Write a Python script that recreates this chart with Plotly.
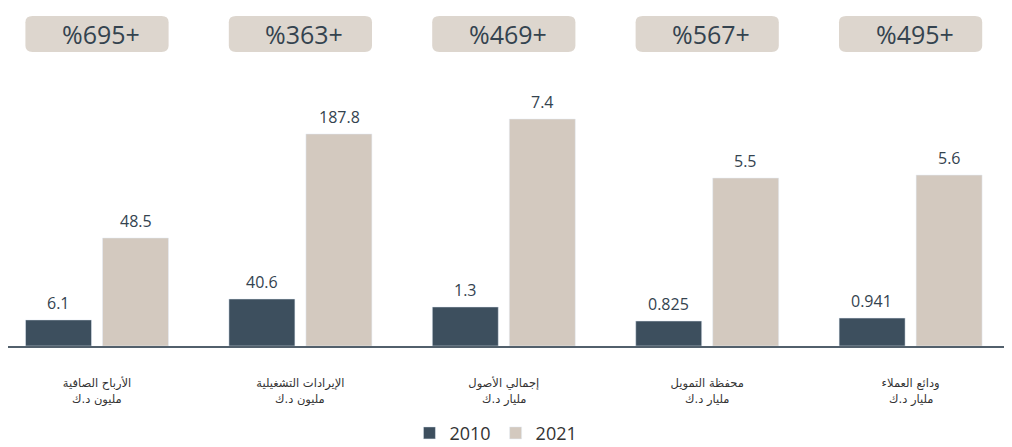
import plotly.graph_objects as go

categories = [
    "الأرباح الصافية",
    "الإيرادات التشغيلية",
    "إجمالي الأصول",
    "محفظة التمويل",
    "ودائع العملاء",
]
units = ["مليون د.ك", "مليون د.ك", "مليار د.ك", "مليار د.ك", "مليار د.ك"]
growth_labels = ["%695+", "%363+", "%469+", "%567+", "%495+"]
values_2010 = ["6.1", "40.6", "1.3", "0.825", "0.941"]
values_2021 = ["48.5", "187.8", "7.4", "5.5", "5.6"]
# visual bar heights as drawn in the picture (relative, tallest = 100)
height_2010 = [11.5, 20.7, 17.2, 11.0, 12.3]
height_2021 = [47.6, 93.4, 100.0, 74.0, 75.3]

DARK = "#3d4f5e"
BEIGE = "#d3c9bf"
BOX = "#ddd6ce"
TEXT = "#34434f"
LABEL = "#333333"

xs = list(range(len(categories)))

fig = go.Figure()
fig.add_trace(go.Bar(x=xs, y=height_2010, name="2010", marker_color=DARK,
                     hoverinfo="skip"))
fig.add_trace(go.Bar(x=xs, y=height_2021, name="2021", marker_color=BEIGE,
                     hoverinfo="skip"))

annotations = []
for i in xs:
    annotations.append(dict(x=i - 0.19, y=height_2010[i], text=values_2010[i],
                            showarrow=False, yanchor="bottom", yshift=4,
                            font=dict(family="Open Sans", size=16, color=TEXT)))
    annotations.append(dict(x=i + 0.19, y=height_2021[i], text=values_2021[i],
                            showarrow=False, yanchor="bottom", yshift=4,
                            font=dict(family="Open Sans", size=16, color=TEXT)))
    annotations.append(dict(x=i + 0.02, y=0.923, yref="paper", text=growth_labels[i],
                            showarrow=False, yanchor="middle",
                            font=dict(family="Open Sans", size=25, color=TEXT)))
    annotations.append(dict(x=i, y=0, text=units[i], showarrow=False,
                            yanchor="middle", yshift=-53,
                            font=dict(family="DejaVu Sans", size=11.5, color=LABEL)))

shapes = []
rx = 0.035
y0, y1 = 0.870, 0.976
ry = 0.018
for i in xs:
    a, b = i - 0.352, i + 0.352
    path = (f"M {a+rx},{y0} L {b-rx},{y0} Q {b},{y0} {b},{y0+ry} "
            f"L {b},{y1-ry} Q {b},{y1} {b-rx},{y1} L {a+rx},{y1} "
            f"Q {a},{y1} {a},{y1-ry} L {a},{y0+ry} Q {a},{y0} {a+rx},{y0} Z")
    shapes.append(dict(type="path", xref="x", yref="paper", path=path,
                       fillcolor=BOX, line=dict(width=0), layer="below"))

fig.update_layout(
    width=1004, height=439,
    margin=dict(l=0, r=0, t=0, b=101, autoexpand=False),
    paper_bgcolor="white", plot_bgcolor="white",
    barmode="group", bargap=0.243, bargroupgap=0.143,
    showlegend=True,
    legend=dict(orientation="h", x=0.486, xanchor="center", y=-0.258, yanchor="middle",
                font=dict(family="Open Sans", size=18, color=LABEL),
                itemwidth=30, traceorder="normal",
                bgcolor="rgba(0,0,0,0)"),
    annotations=annotations,
    shapes=shapes,
    xaxis=dict(range=[-0.4376, 4.4985], tickvals=xs, ticktext=categories,
               showgrid=False, zeroline=False, showline=True,
               linecolor="#52606c", linewidth=2, ticks="",
               ticklabelstandoff=25,
               tickfont=dict(family="DejaVu Sans", size=11.5, color=LABEL)),
    yaxis=dict(range=[0, 148.9], visible=False, showgrid=False, zeroline=False),
)

fig.write_html("out.html")
